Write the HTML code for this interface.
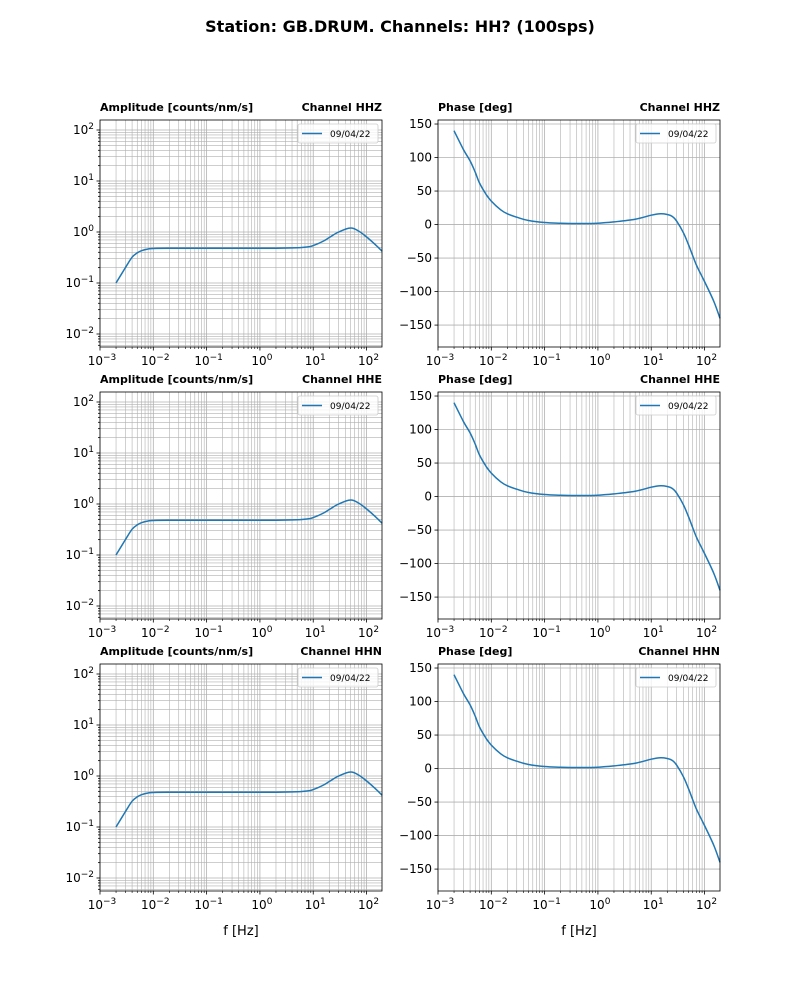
<!DOCTYPE html>
<html><head><meta charset="utf-8">
<style>
body{margin:0;background:#fff;}
svg text{font-family:"DejaVu Sans","Liberation Sans",sans-serif;}
</style></head>
<body>
<svg id="fig" width="800" height="1000" xmlns="http://www.w3.org/2000/svg">
<text x="400" y="32" text-anchor="middle" font-size="16" font-weight="bold">Station: GB.DRUM. Channels: HH? (100sps)</text>
</svg>
<script>
const freqs=[0.002,0.003,0.004,0.005,0.006,0.008,0.01,0.02,0.05,0.1,0.5,1,2,5,8,10,15,20,30,50,70,100,150,195];
const amps=[0.1,0.2,0.32,0.39,0.43,0.465,0.475,0.48,0.48,0.48,0.48,0.48,0.48,0.49,0.51,0.54,0.65,0.78,1.0,1.2,1.05,0.8,0.55,0.42];
const phaseF=[0.002,0.003,0.004,0.005,0.006,0.008,0.01,0.015,0.02,0.03,0.05,0.1,0.2,0.5,1,2,5,10,15,20,25,30,40,50,70,100,150,195];
const phases=[140,112,95,78,62,45,35,22,16,11,6,3,2,1.5,2,4,8,14,16,15,12,5,-12,-30,-60,-85,-115,-140];
const channels=['HHZ','HHE','HHN'];
const legendLabel='09/04/22';
const ampTicks=[-2,-1,0,1,2];
const phaseTicks=[150,100,50,0,-50,-100,-150];
const xTicks=[-3,-2,-1,0,1,2];

const NS='http://www.w3.org/2000/svg';
const svg=document.getElementById('fig');
function mk(tag,attrs,parent){const e=document.createElementNS(NS,tag);for(const k in attrs)e.setAttribute(k,attrs[k]);(parent||svg).appendChild(e);return e;}
function smooth(pts){let d='M'+pts[0][0].toFixed(1)+','+pts[0][1].toFixed(1);
  for(let i=0;i<pts.length-1;i++){const p0=pts[Math.max(0,i-1)],p1=pts[i],p2=pts[i+1],p3=pts[Math.min(pts.length-1,i+2)];
    const c1=[p1[0]+(p2[0]-p0[0])/6,p1[1]+(p2[1]-p0[1])/6],c2=[p2[0]-(p3[0]-p1[0])/6,p2[1]-(p3[1]-p1[1])/6];
    d+=' C'+c1.map(v=>v.toFixed(1)).join(',')+' '+c2.map(v=>v.toFixed(1)).join(',')+' '+p2[0].toFixed(1)+','+p2[1].toFixed(1);}
  return d;}
const XMIN=-3,XMAX=2.29;
function supLabel(g,x,y,exp,anchor){
  const t=mk('text',{x:x,y:y,'font-size':12,'text-anchor':anchor},g);
  
  
  const a=mk('tspan',{},t);a.textContent='10';
  const b=mk('tspan',{dy:-5,'font-size':9},t);b.textContent=exp<0?'\u2212'+(-exp):String(exp);
}
const tops=[120,392,664];
channels.forEach((ch,r)=>{
  const top=tops[r],bot=top+227;
  [0,1].forEach(c=>{
    const L=c?438:100,R=c?720:382;
    const g=mk('g',{});
    
    
    const sx=f=>L+(Math.log10(f)-XMIN)/(XMAX-XMIN)*(R-L);
    let sy;
    if(!c){const YMIN=-2.255,YMAX=2.196;sy=v=>bot-(Math.log10(v)-YMIN)/(YMAX-YMIN)*(bot-top);}
    else{const YMIN=-182.7,YMAX=156;sy=v=>bot-(v-YMIN)/(YMAX-YMIN)*(bot-top);}
    for(let d=-3;d<=2;d++)for(let m=1;m<10;m++){const f=m*Math.pow(10,d);const x=sx(f);if(x>R+0.1)continue;
      mk('line',{x1:x,x2:x,y1:top,y2:bot,stroke:'#b0b0b0','stroke-width':m==1?0.8:0.6},g);
      mk('line',{x1:x,x2:x,y1:bot,y2:bot+(m==1?3.5:2),stroke:'#000','stroke-width':m==1?0.8:0.6},g);}
    if(!c){
      for(let d=-3;d<=2;d++)for(let m=1;m<10;m++){const v=m*Math.pow(10,d);const y=sy(v);if(y<top||y>bot)continue;
        mk('line',{x1:L,x2:R,y1:y,y2:y,stroke:'#b0b0b0','stroke-width':m==1?0.8:0.6},g);
        mk('line',{x1:L-(m==1?3.5:2),x2:L,y1:y,y2:y,stroke:'#000','stroke-width':0.8},g);}
      ampTicks.forEach(e=>{supLabel(g,L-6,sy(Math.pow(10,e))+4,e,'end');});
    } else {
      phaseTicks.forEach(v=>{const y=sy(v);
        mk('line',{x1:L,x2:R,y1:y,y2:y,stroke:'#b0b0b0','stroke-width':0.8},g);
        mk('line',{x1:L-3.5,x2:L,y1:y,y2:y,stroke:'#000','stroke-width':0.8},g);
        const t=mk('text',{x:L-6,y:y+4,'font-size':12,'text-anchor':'end'},g);t.textContent=v<0?'\u2212'+(-v):String(v);
        
        });
    }
    xTicks.forEach(e=>supLabel(g,sx(Math.pow(10,e))+2,bot+18,e,'middle'));
    const fx=c?phaseF:freqs,fy=c?phases:amps;
    const p=mk('path',{d:smooth(fx.map((f,i)=>[sx(f),sy(fy[i])])),fill:'none',stroke:'#1f77b4','stroke-width':1.5,'stroke-linejoin':'round'},g);
    
    
    mk('rect',{x:L,y:top,width:R-L,height:bot-top,fill:'none',stroke:'#000','stroke-width':0.8},g);
    const t1=mk('text',{x:L,y:top-9,'font-size':11,'font-weight':'bold'},g);t1.textContent=c?'Phase [deg]':'Amplitude [counts/nm/s]';
    
    
    const t2=mk('text',{x:R,y:top-9,'font-size':11,'font-weight':'bold','text-anchor':'end'},g);t2.textContent='Channel '+ch;
    
    
    const lg=mk('g',{},g);
    
    
    mk('rect',{x:R-84,y:top+4,width:80,height:19,rx:2,fill:'#fff','fill-opacity':0.8,stroke:'#ccc','stroke-width':0.8},lg);
    mk('line',{x1:R-80,x2:R-60,y1:top+13.5,y2:top+13.5,stroke:'#1f77b4','stroke-width':1.5},lg);
    const lt=mk('text',{x:R-52,y:top+17,'font-size':9},lg);lt.textContent=legendLabel;
    if(r==2){const xl=mk('text',{x:(L+R)/2,y:bot+44,'font-size':13,'text-anchor':'middle'},g);xl.textContent='f [Hz]';
      
      }
  });
});
</script>
</body></html>
